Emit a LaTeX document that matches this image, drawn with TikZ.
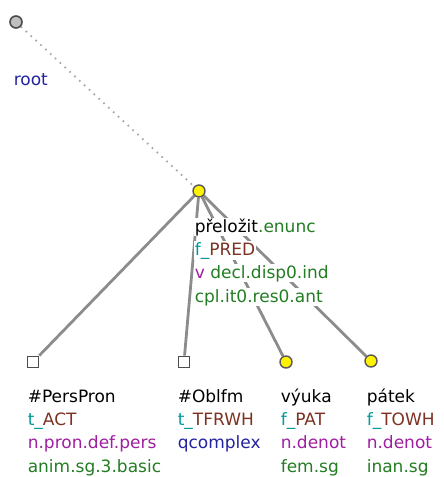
\documentclass[tikz,border=0pt]{standalone}
\usepackage{fontspec}
\setmainfont{DejaVu Sans}
\usetikzlibrary{backgrounds}
\definecolor{gramgreen}{RGB}{35,125,35}
\definecolor{fteal}{RGB}{0,155,155}
\definecolor{functbrown}{RGB}{125,50,35}
\definecolor{sempurple}{RGB}{160,30,160}
\definecolor{rootblue}{RGB}{35,35,160}
\begin{document}
\begin{tikzpicture}[x=1pt,y=-1pt,
    font=\fontsize{17}{23}\selectfont,
    ynode/.style={circle,draw=black!65,line width=1.4pt,fill=yellow,minimum size=12pt,inner sep=0pt},
    qnode/.style={rectangle,draw=black!70,line width=1.8pt,fill=white,minimum size=11pt,inner sep=0pt},
    rnode/.style={circle,draw=black!70,line width=1.6pt,fill=black!25,minimum size=12pt,inner sep=0pt},
    edge/.style={draw=black!45,line width=2.8pt},
    redge/.style={draw=black!35,line width=1.8pt,dash pattern=on 1.6pt off 5pt},
    lbl/.style={anchor=base west,fill=white,inner sep=0.6pt}]
    \useasboundingbox (0,0) rectangle (444,477);
    % uzly
    \node[rnode] (root) at (16,22) {};
    \node[ynode] (pred) at (199,191) {};
    \node[qnode] (act) at (33,362) {};
    \node[qnode] (tfrwh) at (184,362) {};
    \node[ynode] (pat) at (286,362) {};
    \node[ynode] (towh) at (371,361) {};
    % hrany
    \begin{pgfonlayer}{background}
        \draw[redge] (root) -- (pred);
        \foreach \k in {act,tfrwh,pat,towh}
            \draw[edge] (pred) -- (\k);
    \end{pgfonlayer}
    % popisky
    \node[lbl,text=rootblue] (rootA) at (13,85) {root};
    \node[lbl] (predA) at (194,232) {přeložit{\color{gramgreen}.enunc}};
    \node[lbl] (predB) at (194,255) {{\color{fteal}f\_}{\color{functbrown}PRED}};
    \node[lbl] (predC) at (194,278) {{\color{sempurple}v} {\color{gramgreen}decl.disp0.ind}};
    \node[lbl,text=gramgreen] (predD) at (194,302) {cpl.it0.res0.ant};
    \node[lbl] (actA) at (27,402) {\#PersPron};
    \node[lbl] (actB) at (27,425) {{\color{fteal}t\_}{\color{functbrown}ACT}};
    \node[lbl,text=sempurple] (actC) at (27,448) {n.pron.def.pers};
    \node[lbl,text=gramgreen] (actD) at (27,472) {anim.sg.3.basic};
    \node[lbl] (tfrwhA) at (177,402) {\#Oblfm};
    \node[lbl] (tfrwhB) at (177,425) {{\color{fteal}t\_}{\color{functbrown}TFRWH}};
    \node[lbl,text=rootblue] (tfrwhC) at (177,448) {qcomplex};
    \node[lbl] (patA) at (280,402) {výuka};
    \node[lbl] (patB) at (280,425) {{\color{fteal}f\_}{\color{functbrown}PAT}};
    \node[lbl,text=sempurple] (patC) at (280,448) {n.denot};
    \node[lbl,text=gramgreen] (patD) at (280,472) {fem.sg};
    \node[lbl] (towhA) at (366,402) {pátek};
    \node[lbl] (towhB) at (366,425) {{\color{fteal}f\_}{\color{functbrown}TOWH}};
    \node[lbl,text=sempurple] (towhC) at (366,448) {n.denot};
    \node[lbl,text=gramgreen] (towhD) at (366,472) {inan.sg};
\end{tikzpicture}
\end{document}
